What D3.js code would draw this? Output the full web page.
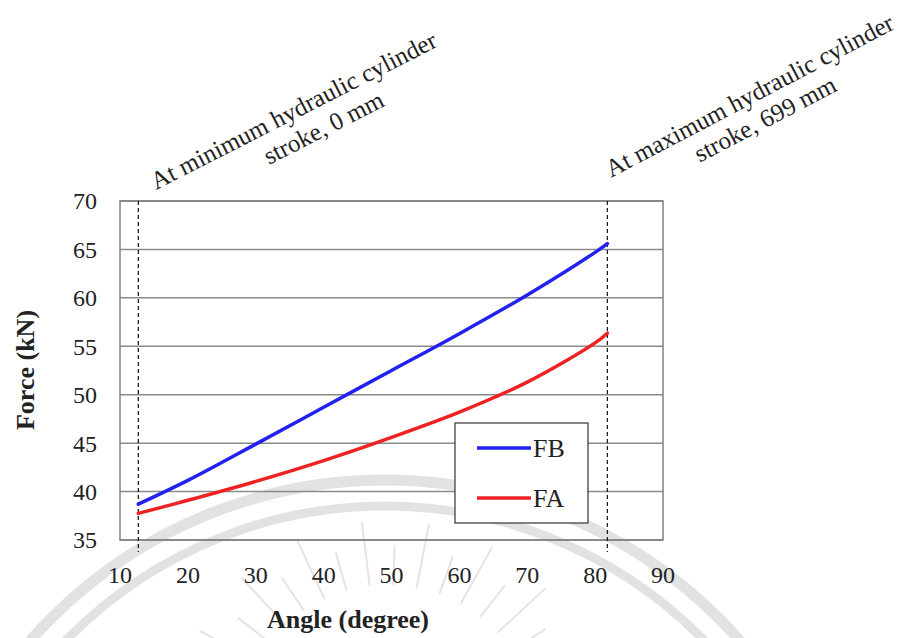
<!DOCTYPE html>
<html>
<head>
<meta charset="utf-8">
<script src="https://cdn.jsdelivr.net/npm/d3@7"></script>
<style>
  html, body { margin: 0; padding: 0; background: #fff; }
  svg { display: block; }
  text { font-family: "Liberation Serif", "Times New Roman", serif; fill: #222; }
</style>
</head>
<body>
<svg id="chart" width="912" height="638"></svg>
<script>
// Cylinder force versus boom angle
const angleFB = [12.7, 20, 30, 40, 50, 60, 70, 80, 81.8];
const forceFB = [38.7, 41.15, 44.9, 48.7, 52.5, 56.3, 60.3, 64.7, 65.6];
const angleFA = [12.7, 20, 30, 40, 50, 60, 70, 80, 81.8];
const forceFA = [37.75, 39.1, 41.05, 43.2, 45.6, 48.2, 51.3, 55.35, 56.35];
const seriesNames = ["FB", "FA"];
const seriesColors = ["#2222ee", "#ee2222"];
const xTicks = [10, 20, 30, 40, 50, 60, 70, 80, 90];
const yTicks = [35, 40, 45, 50, 55, 60, 65, 70];
const strokeLimits = [12.7, 81.8];
const strokeNotes = [
  ["At minimum hydraulic cylinder", "stroke, 0 mm"],
  ["At maximum hydraulic cylinder", "stroke, 699 mm"]
];

const svg = d3.select("#chart");
const plot = { left: 120, right: 663, top: 201, bottom: 540 };

const x = d3.scaleLinear().domain([10, 90]).range([plot.left, plot.right]);
const y = d3.scaleLinear().domain([35, 70]).range([plot.bottom, plot.top]);

// faint emblem in the background
const emblem = svg.append("g").attr("fill", "none");
const ec = { x: 385, y: 952 };
[472, 446].forEach((r, i) => {
  emblem.append("circle")
    .attr("cx", ec.x).attr("cy", ec.y).attr("r", r)
    .attr("stroke", "#e2e2e2").attr("stroke-width", i === 0 ? 11 : 9);
});
const rayCenter = { x: 388, y: 735 };
d3.range(-70, 71, 9).forEach((a, i) => {
  const t = a * Math.PI / 180;
  const r0 = 150, r1 = i % 2 ? 215 : 190;
  emblem.append("line")
    .attr("x1", rayCenter.x + r0 * Math.sin(t)).attr("y1", rayCenter.y - r0 * Math.cos(t))
    .attr("x2", rayCenter.x + r1 * Math.sin(t)).attr("y2", rayCenter.y - r1 * Math.cos(t))
    .attr("stroke", "#e4e4e4").attr("stroke-width", 2);
});

// horizontal gridlines
svg.append("g")
  .selectAll("line").data(yTicks).join("line")
  .attr("x1", plot.left).attr("x2", plot.right)
  .attr("y1", d => y(d)).attr("y2", d => y(d))
  .attr("stroke", "#8a8a8a").attr("stroke-width", 1.5);

// plot frame
svg.append("rect")
  .attr("x", plot.left).attr("y", plot.top)
  .attr("width", plot.right - plot.left).attr("height", plot.bottom - plot.top)
  .attr("fill", "none").attr("stroke", "#808080").attr("stroke-width", 1.5);

// y axis labels
svg.append("g")
  .selectAll("text").data(yTicks).join("text")
  .attr("x", 97).attr("y", d => y(d))
  .attr("dy", "0.35em")
  .attr("text-anchor", "end")
  .attr("font-size", 24)
  .text(d => d);

// x axis labels
svg.append("g")
  .selectAll("text").data(xTicks).join("text")
  .attr("x", d => x(d)).attr("y", 583)
  .attr("text-anchor", "middle")
  .attr("font-size", 24)
  .text(d => d);

// axis titles
svg.append("text")
  .attr("transform", "translate(34,370) rotate(-90)")
  .attr("text-anchor", "middle")
  .attr("font-size", 26).attr("font-weight", "bold")
  .text("Force (kN)");
svg.append("text")
  .attr("x", 348).attr("y", 628)
  .attr("text-anchor", "middle")
  .attr("font-size", 26).attr("font-weight", "bold")
  .text("Angle (degree)");

// legend box
const legend = { x: 455, y: 423, w: 133, h: 100 };
svg.append("rect")
  .attr("x", legend.x).attr("y", legend.y)
  .attr("width", legend.w).attr("height", legend.h)
  .attr("fill", "#fff").attr("stroke", "#333").attr("stroke-width", 1.2);

// stroke limit markers
svg.append("g")
  .selectAll("line").data(strokeLimits).join("line")
  .attr("x1", d => x(d)).attr("x2", d => x(d))
  .attr("y1", plot.top).attr("y2", plot.bottom + 12)
  .attr("stroke", "#111").attr("stroke-width", 1.2)
  .attr("stroke-dasharray", "4,3");

// annotation text for the stroke limits
const noteLayout = [
  { dx: 159, dy: -83, angle: -27, sx: 19, sy: 29 },
  { dx: 146, dy: -98, angle: -27.7, sx: 3, sy: 28 }
];
strokeLimits.forEach((s, i) => {
  const L = noteLayout[i];
  const g = svg.append("g")
    .attr("transform", `translate(${x(s) + L.dx},${plot.top + L.dy}) rotate(${L.angle})`);
  g.append("text")
    .attr("x", 0).attr("y", 0)
    .attr("text-anchor", "middle")
    .attr("font-size", 25)
    .text(strokeNotes[i][0]);
  g.append("text")
    .attr("x", L.sx).attr("y", L.sy)
    .attr("text-anchor", "middle")
    .attr("font-size", 25)
    .text(strokeNotes[i][1]);
});

// force curves
const line = d3.line()
  .x(d => x(d[0]))
  .y(d => y(d[1]))
  .curve(d3.curveCatmullRom.alpha(0.5));

const series = [
  d3.zip(angleFB, forceFB),
  d3.zip(angleFA, forceFA)
];
svg.append("g")
  .selectAll("path").data(series).join("path")
  .attr("d", line)
  .attr("fill", "none")
  .attr("stroke", (d, i) => seriesColors[i])
  .attr("stroke-width", 3.5)
  .attr("stroke-linecap", "round");

// legend entries
const entries = svg.append("g")
  .selectAll("g").data(seriesNames).join("g")
  .attr("transform", (d, i) => `translate(${legend.x},${legend.y + 25 + i * 50})`);
entries.append("line")
  .attr("x1", 22).attr("x2", 76)
  .attr("stroke", (d, i) => seriesColors[i])
  .attr("stroke-width", 3.5);
entries.append("text")
  .attr("x", 78).attr("dy", "0.35em")
  .attr("font-size", 26)
  .text(d => d);
</script>
</body>
</html>
